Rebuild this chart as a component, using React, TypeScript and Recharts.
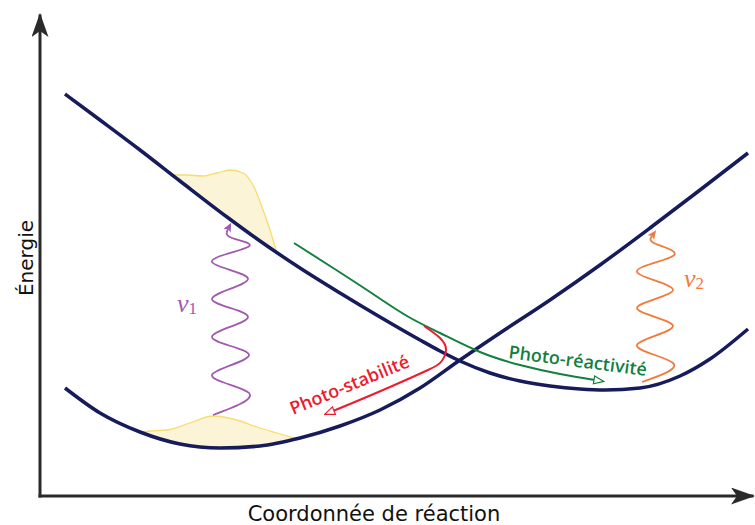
import { ComposedChart, Line, Area, XAxis, YAxis } from 'recharts';

const NAVY = '#161b5b';
const AXIS = '#2a2a2a';
const PURPLE = '#a05aae';
const ORANGE = '#f27a3c';
const GREEN = '#12803f';
const RED = '#ec1c2e';
const YELLOW = '#fcf4d6';
const YELLOW_EDGE = '#f7dc70';

// reaction coordinate (arb. units) and energy (arb. units)
const groundX = [25, 60, 100, 140, 180, 220, 260, 300, 340, 380, 420, 460, 510, 560, 610, 660, 708];
const groundE = [108, 83, 64, 52, 48, 50, 58, 70, 86, 108, 136, 163, 196, 231, 268, 306, 343];

const excitedX = [25, 60, 100, 140, 187, 220, 260, 300, 340, 380, 400, 420, 450, 480, 510, 540, 565, 600, 640, 670, 708];
const excitedE = [402, 376, 346, 315, 279, 255, 228, 203, 179, 156, 145, 135, 123, 115, 110, 107, 106, 108, 120, 137, 167];

// wave packets: lower edge sits on the curve, upper edge is the packet
const packet0X = [100, 110, 127, 150, 173, 197, 217, 237, 258];
const packet0Lo = [64, 60, 55, 50, 48, 48, 50, 53, 57];
const packet0Hi = [64, 65, 66, 73, 80, 76, 69, 63, 57];

const packet1X = [132, 147, 163, 177, 190, 203, 213, 222, 230, 236];
const packet1Lo = [321, 310, 298, 287, 277, 267, 260, 254, 248, 244];
const packet1Hi = [321, 321, 320, 323, 326, 323, 311, 289, 266, 246];

// photon squiggles (turning points)
const nu1X = [173, 209, 172, 209, 172, 208, 172, 208, 172, 208, 192, 188];
const nu1E = [81, 103, 121, 141, 159, 179, 197, 217, 234, 249, 258, 267];
const nu2X = [602, 633, 597, 633, 597, 633, 597, 633, 616, 612];
const nu2E = [114, 133, 151, 170, 188, 206, 224, 240, 252, 260];

// relaxation paths
const greenX = [254, 290, 330, 367, 400, 440, 480, 520, 555];
const greenE = [253, 230, 204, 180, 163, 144, 131, 122, 116];
const redX = [384, 400, 406, 401, 388, 350, 310, 293];
const redE = [170, 158, 146, 134, 126, 109, 92, 85];

const toPoints = (xs: number[], es: number[]) => xs.map((x, i) => ({ x, e: es[i] }));
const toBand = (xs: number[], lo: number[], hi: number[]) =>
  xs.map((x, i) => ({ x, band: [lo[i], hi[i]] }));

const ground = toPoints(groundX, groundE);
const excited = toPoints(excitedX, excitedE);
const packet0 = toBand(packet0X, packet0Lo, packet0Hi);
const packet1 = toBand(packet1X, packet1Lo, packet1Hi);
const nu1 = toPoints(nu1X, nu1E);
const nu2 = toPoints(nu2X, nu2E);
const green = toPoints(greenX, greenE);
const red = toPoints(redX, redE);

const SANS = "'DejaVu Sans', sans-serif";
const LABEL_FONT = "'Open Sans', sans-serif";
const SERIF = "'Liberation Serif', serif";

export default function App() {
  return (
    <div style={{ position: 'absolute', left: 0, top: 0, width: 755, height: 525, background: '#fff' }}>
      <svg width={0} height={0} style={{ position: 'absolute' }}>
        <defs>
          <marker id="axisHead" viewBox="0 0 24 17" markerWidth={24} markerHeight={17} refX={21} refY={8.5}
            orient="auto-start-reverse" markerUnits="userSpaceOnUse">
            <path d="M0,0 L24,8.5 L0,17 L6,8.5 Z" fill={AXIS} />
          </marker>
          <marker id="purpleHead" viewBox="0 0 9 8" markerWidth={9} markerHeight={8} refX={2} refY={4}
            orient="auto" markerUnits="userSpaceOnUse">
            <path d="M0,0 L9,4 L0,8 L2,4 Z" fill={PURPLE} />
          </marker>
          <marker id="orangeHead" viewBox="0 0 9 8" markerWidth={9} markerHeight={8} refX={2} refY={4}
            orient="auto" markerUnits="userSpaceOnUse">
            <path d="M0,0 L9,4 L0,8 L2,4 Z" fill={ORANGE} />
          </marker>
          <marker id="greenHead" viewBox="0 0 12 10" markerWidth={12} markerHeight={10} refX={2} refY={5}
            orient="auto" markerUnits="userSpaceOnUse">
            <path d="M1,1 L11,5 L1,9 Z" fill="#fff" stroke={GREEN} strokeWidth={1.2} />
          </marker>
          <marker id="redHead" viewBox="0 0 12 10" markerWidth={12} markerHeight={10} refX={2} refY={5}
            orient="auto" markerUnits="userSpaceOnUse">
            <path d="M1,1 L11,5 L1,9 Z" fill="#fff" stroke={RED} strokeWidth={1.2} />
          </marker>
        </defs>
      </svg>
      <ComposedChart width={755} height={525} margin={{ top: 16, right: 3, bottom: 0, left: 0 }}>
        <XAxis
          type="number"
          dataKey="x"
          domain={[0, 712]}
          height={29}
          tick={false}
          tickLine={false}
          axisLine={{ stroke: AXIS, strokeWidth: 3, strokeLinecap: 'square', markerEnd: 'url(#axisHead)' }}
          label={{
            content: () => (
              <text x={374} y={521} textAnchor="middle" fontFamily={SANS} fontSize={21} fill="#111">
                Coordonnée de réaction
              </text>
            ),
          }}
        />
        <YAxis
          type="number"
          domain={[0, 480]}
          width={40}
          tick={false}
          tickLine={false}
          axisLine={{ stroke: AXIS, strokeWidth: 3, strokeLinecap: 'square', markerStart: 'url(#axisHead)' }}
          label={{
            content: () => (
              <text transform="translate(33,258) rotate(-90)" textAnchor="middle" fontFamily={SANS} fontSize={20} fill="#111">
                Énergie
              </text>
            ),
          }}
        />
        <Area data={packet0} dataKey="band" type="monotone" stroke={YELLOW_EDGE} strokeWidth={1.3}
          fill={YELLOW} fillOpacity={1} isAnimationActive={false} activeDot={false} />
        <Area data={packet1} dataKey="band" type="monotone" stroke={YELLOW_EDGE} strokeWidth={1.3}
          fill={YELLOW} fillOpacity={1} isAnimationActive={false} activeDot={false} />
        <Line data={ground} dataKey="e" type="monotone" stroke={NAVY} strokeWidth={3.5}
          dot={false} activeDot={false} isAnimationActive={false} />
        <Line data={excited} dataKey="e" type="monotone" stroke={NAVY} strokeWidth={3.5}
          dot={false} activeDot={false} isAnimationActive={false} />
        <Line data={green} dataKey="e" type="natural" stroke={GREEN} strokeWidth={2}
          dot={false} activeDot={false} isAnimationActive={false} markerEnd="url(#greenHead)" />
        <Line data={red} dataKey="e" type="natural" stroke={RED} strokeWidth={2}
          dot={false} activeDot={false} isAnimationActive={false} markerEnd="url(#redHead)" />
        <Line data={nu1} dataKey="e" type="natural" stroke={PURPLE} strokeWidth={1.8}
          dot={false} activeDot={false} isAnimationActive={false} markerEnd="url(#purpleHead)" />
        <Line data={nu2} dataKey="e" type="natural" stroke={ORANGE} strokeWidth={1.8}
          dot={false} activeDot={false} isAnimationActive={false} markerEnd="url(#orangeHead)" />
        <g>
          <text x={177} y={312} fill={PURPLE} fontFamily={SERIF} fontSize={26} fontStyle="italic">
            ν<tspan fontSize={17} fontStyle="normal" dy={2}>1</tspan>
          </text>
          <text x={684} y={287} fill={ORANGE} fontFamily={SERIF} fontSize={26} fontStyle="italic">
            ν<tspan fontSize={17} fontStyle="normal" dy={2}>2</tspan>
          </text>
          <text transform="translate(508,358) rotate(7.4)" fill={GREEN} fontFamily={LABEL_FONT} fontSize={18} fontWeight={600}>
            Photo-réactivité
          </text>
          <text transform="translate(293,415) rotate(-22.5)" fill={RED} fontFamily={LABEL_FONT} fontSize={18} fontWeight={600}>
            Photo-stabilité
          </text>
        </g>
      </ComposedChart>
    </div>
  );
}
